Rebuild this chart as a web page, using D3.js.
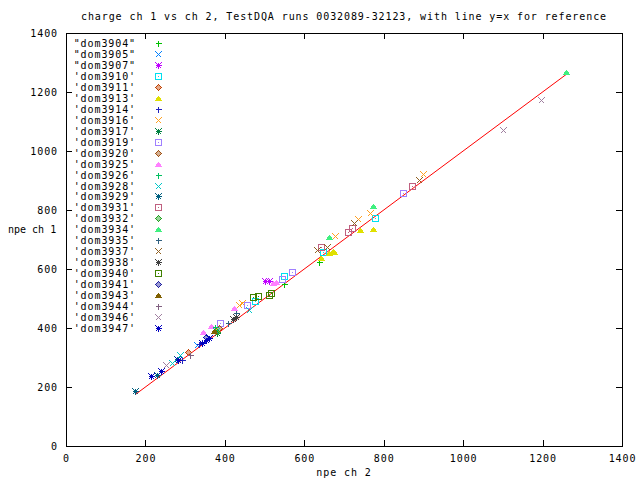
<!DOCTYPE html>
<html><head><meta charset="utf-8">
<script src="https://cdn.jsdelivr.net/npm/d3@7"></script>
<style>body{margin:0;background:#fff}svg{display:block}text{font-family:"DejaVu Sans Mono",monospace;font-size:10px;letter-spacing:0.9px;fill:#000}</style>
</head><body><svg id="c" width="640" height="480"></svg>
<script>
const titleText = "charge ch 1 vs ch 2, TestDQA runs 0032089-32123, with line y=x for reference";
const xLabel = "npe ch 2";
const yLabel = "npe ch 1";
const tickValues = [0,200,400,600,800,1000,1200,1400];
const seriesNames = ['"dom3904"','"dom3905"','"dom3907"',"'dom3910'","'dom3911'","'dom3913'","'dom3914'","'dom3916'","'dom3917'","'dom3919'","'dom3920'","'dom3925'","'dom3926'","'dom3928'","'dom3929'","'dom3931'","'dom3932'","'dom3934'","'dom3935'","'dom3937'","'dom3938'","'dom3940'","'dom3941'","'dom3943'","'dom3944'","'dom3946'","'dom3947'"];
const seriesColors = ["#00c000","#0080ff","#c000ff","#00e0f0","#c04000","#e0e000","#2020c0","#ffa020","#008040","#a080ff","#a05010","#ff80ff","#00c060","#00c8c8","#006080","#c06080","#20a020","#40f080","#306080","#906020","#404040","#408000","#2020a0","#806000","#806080","#a080a0","#0000c0"];
const seriesShapes = ["plus","cross","star","box","diamond","triangle"];
// [npe ch 2, npe ch 1] per series
const dom3904 = [[638,624],[548,549]];
const dom3905 = [[330,342]];
const dom3907 = [[500,559],[512,559]];
const dom3910 = [[779,773],[646,658],[548,576],[477,492]];
const dom3911 = [[307,319]];
const dom3913 = [[774,736],[741,732],[673,661],[663,654],[676,658],[643,637],[377,393]];
const dom3914 = [[291,292],[342,353],[335,345]];
const dom3916 = [[900,922],[766,790],[734,769],[678,712],[435,478],[442,485]];
const dom3917 = [[379,383]];
const dom3919 = [[849,858],[568,590],[545,566],[455,478],[389,417]];
const dom3920 = [[384,400]];
const dom3925 = [[422,468],[364,407],[344,386],[520,552],[530,556]];
const dom3926 = [[374,403]];
const dom3928 = [[460,461],[266,281],[286,308],[377,390]];
const dom3929 = [[173,186],[229,241],[279,295]];
const dom3931 = [[872,881],[719,739],[709,725],[643,675]];
const dom3932 = [[381,388]];
const dom3934 = [[1259,1268],[774,814],[663,708]];
const dom3935 = [[407,417],[427,451]];
const dom3937 = [[889,902],[724,756],[631,664],[656,675]];
const dom3938 = [[427,437],[421,430]];
const dom3940 = [[515,519],[512,512],[484,510],[471,505]];
const dom3941 = [[352,369]];
const dom3943 = [[372,390]];
const dom3944 = [[312,308]];
const dom3946 = [[1196,1173],[1101,1071],[251,275]];
const dom3947 = [[214,237],[239,254],[281,292],[359,366],[342,350],[352,358]];
const seriesData = [dom3904,dom3905,dom3907,dom3910,dom3911,dom3913,dom3914,dom3916,dom3917,dom3919,dom3920,dom3925,dom3926,dom3928,dom3929,dom3931,dom3932,dom3934,dom3935,dom3937,dom3938,dom3940,dom3941,dom3943,dom3944,dom3946,dom3947];
const refLine = [[176,176],[1262,1262]];

const L=66,R=622,T=33,B=446;
const svg=d3.select("#c");
const x=d3.scaleLinear().domain([0,1400]).range([L,R]);
const y=d3.scaleLinear().domain([0,1400]).range([B,T]);

function shapePath(s){
  const r=3;
  switch(s){
    case "plus": return `M${-r},0H${r}M0,${-r}V${r}`;
    case "cross": return `M${-r},${-r}L${r},${r}M${-r},${r}L${r},${-r}`;
    case "star": return `M${-r},0H${r}M0,${-r}V${r}M${-r},${-r}L${r},${r}M${-r},${r}L${r},${-r}`;
    case "box": return `M${-r},${-r}H${r}V${r}H${-r}Z M-0.5,0H0.5`;
    case "diamond": return `M0,${-r}L${r},0L0,${r}L${-r},0Z`;
    case "triangle": return `M0,-2L3,2L-3,2Z`;
  }
}
function fillOf(sh,col){return sh==="triangle"?col:(sh==="diamond"?col:"none");}
function fillOp(sh){return sh==="diamond"?0.45:1;}

const g=svg.append("g").attr("shape-rendering","crispEdges");
g.append("g").attr("transform",`translate(0,${B})`).call(d3.axisBottom(x).tickValues(tickValues).tickSize(-6).tickPadding(9).tickFormat(d3.format("d")))
 .call(a=>{a.select(".domain").remove();a.selectAll("text").attr("font-size",null).attr("font-family",null);});
g.append("g").attr("transform",`translate(0,${T})`).call(d3.axisTop(x).tickValues(tickValues).tickSize(-6).tickFormat(""))
 .call(a=>a.select(".domain").remove());
g.append("g").attr("transform",`translate(${L},0)`).call(d3.axisLeft(y).tickValues(tickValues).tickSize(-6).tickPadding(8).tickFormat(d3.format("d")))
 .call(a=>{a.select(".domain").remove();a.selectAll("text").attr("font-size",null).attr("font-family",null);});
g.append("g").attr("transform",`translate(${R},0)`).call(d3.axisRight(y).tickValues(tickValues).tickSize(-6).tickFormat(""))
 .call(a=>a.select(".domain").remove());
g.append("rect").attr("x",L).attr("y",T).attr("width",R-L).attr("height",B-T).attr("fill","none").attr("stroke","#000");

svg.append("text").attr("x",(L+R)/2).attr("y",20).attr("text-anchor","middle").text(titleText);
svg.append("text").attr("x",(L+R)/2).attr("y",476).attr("text-anchor","middle").text(xLabel);
svg.append("text").attr("x",8).attr("y",233).style("letter-spacing","0px").text(yLabel);

svg.append("path").datum(refLine).attr("fill","none").attr("stroke","#ff0000").attr("stroke-width",1)
  .attr("d",d3.line().x(d=>x(d[0])).y(d=>y(d[1])));

seriesData.forEach((pts,i)=>{
  const sh=seriesShapes[i%6], col=seriesColors[i];
  svg.append("g").attr("shape-rendering","crispEdges").selectAll("path").data(pts).join("path")
    .attr("transform",d=>`translate(${Math.round(x(d[0]))+0.5},${Math.round(y(d[1]))+0.5})`)
    .attr("d",shapePath(sh)).attr("fill",fillOf(sh,col)).attr("fill-opacity",fillOp(sh)).attr("stroke",col).attr("stroke-width",1);
});

const ly=d3.scaleLinear().domain([0,26]).range([43,328]);
seriesNames.forEach((n,i)=>{
  const yy=Math.round(ly(i));
  svg.append("text").attr("x",136).attr("y",yy+4).attr("text-anchor","end").text(n);
  const sh=seriesShapes[i%6];
  svg.append("path").attr("shape-rendering","crispEdges").attr("transform",`translate(158.5,${yy+0.5})`)
    .attr("d",shapePath(sh)).attr("fill",fillOf(sh,seriesColors[i])).attr("fill-opacity",fillOp(sh)).attr("stroke",seriesColors[i]);
});
</script></body></html>
